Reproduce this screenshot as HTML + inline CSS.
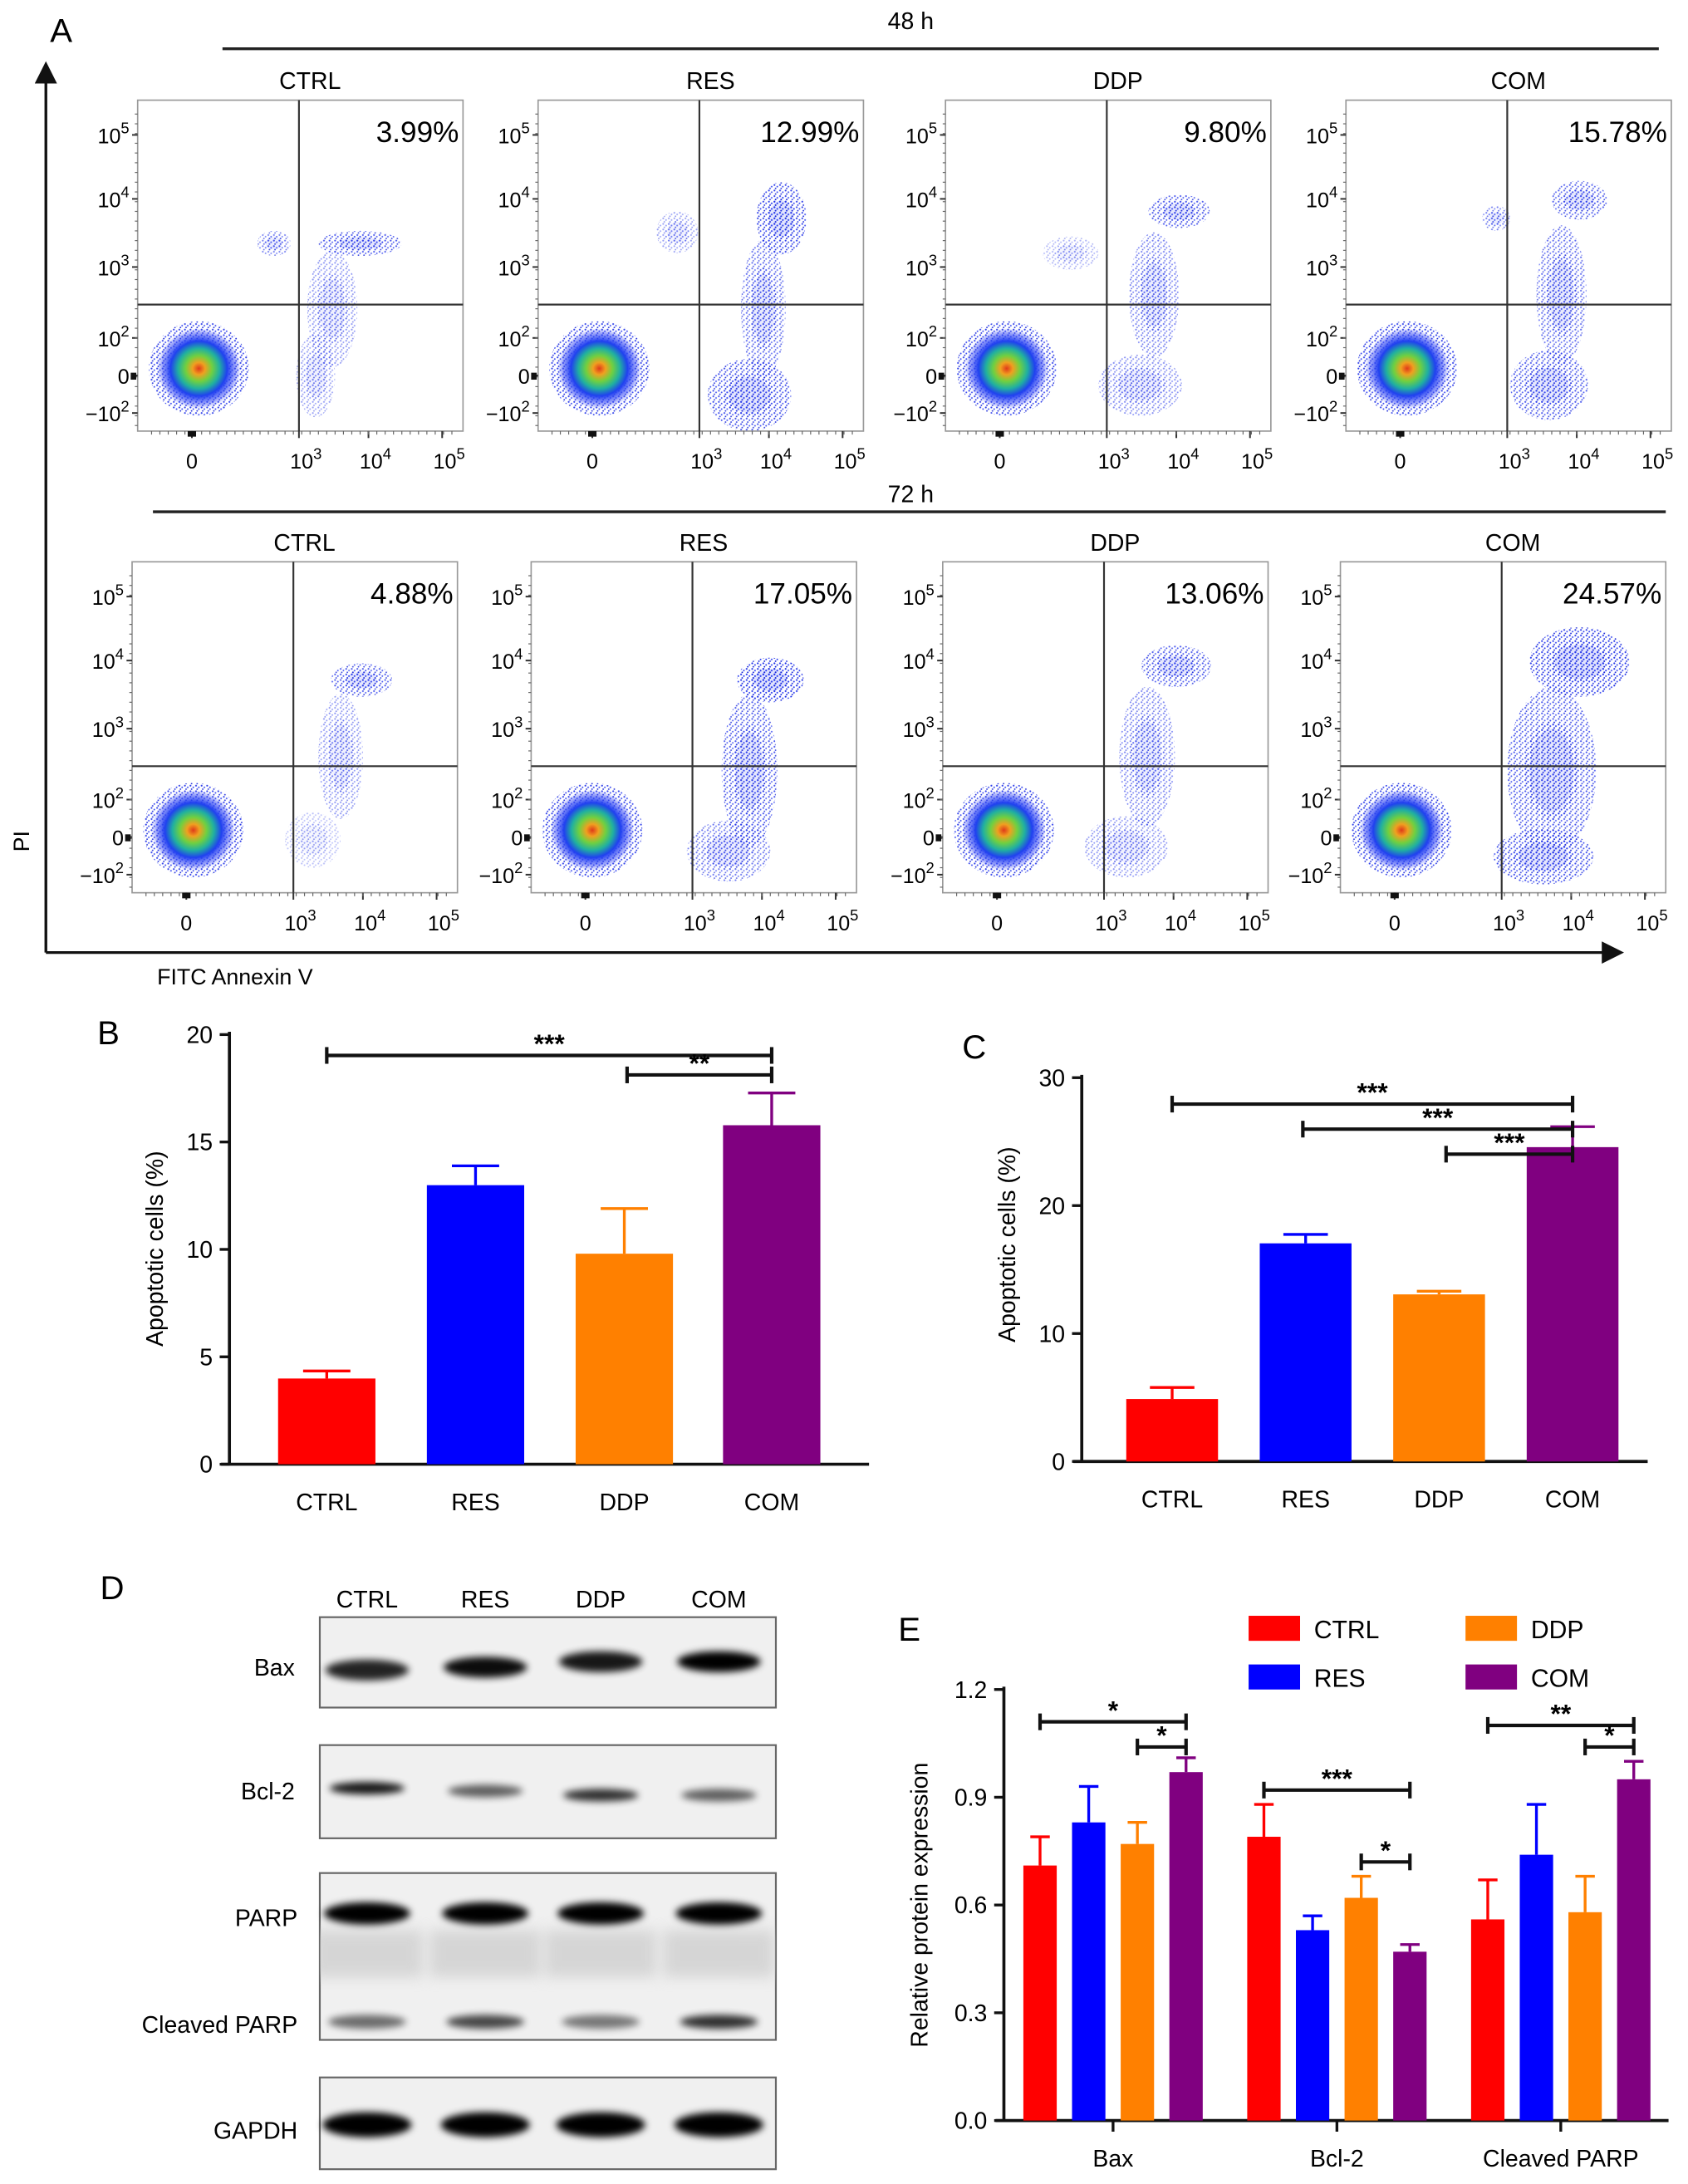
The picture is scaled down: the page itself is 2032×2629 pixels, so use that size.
<!DOCTYPE html>
<html><head><meta charset="utf-8"><style>
html,body{margin:0;padding:0;background:#fff;}
svg{display:block;font-family:"Liberation Sans",Arial,sans-serif;}
</style></head><body>
<svg id="fig" width="2032" height="2629" viewBox="0 0 1214 1570.6" xmlns="http://www.w3.org/2000/svg">
<defs>
<pattern id="dots" width="4" height="4" patternUnits="userSpaceOnUse">
<circle cx="1" cy="1" r="0.65" fill="#1a2ce8"/><circle cx="3" cy="2.2" r="0.6" fill="#2a3cf0"/><circle cx="1.8" cy="3.5" r="0.55" fill="#1020d8"/>
</pattern>
<radialGradient id="clus">
<stop offset="0" stop-color="#e03a1a"/><stop offset="0.15" stop-color="#f0a020"/><stop offset="0.32" stop-color="#70d040"/><stop offset="0.5" stop-color="#20b0a0"/><stop offset="0.68" stop-color="#2040f0"/><stop offset="0.88" stop-color="#3a4cf5" stop-opacity="0.5"/><stop offset="1" stop-color="#3a4cf5" stop-opacity="0"/>
</radialGradient>
<filter id="blur" x="-30%" y="-80%" width="160%" height="260%"><feGaussianBlur stdDeviation="2.6"/></filter>
<filter id="blur2" x="-30%" y="-80%" width="160%" height="260%"><feGaussianBlur stdDeviation="5"/></filter>
<clipPath id="parpclip"><rect x="230" y="1347" width="328" height="120"/></clipPath>
<marker id="arr" markerWidth="8" markerHeight="8" refX="4" refY="4" orient="auto"><path d="M0,0 L8,4 L0,8 z" fill="#111"/></marker>
</defs>
<g id="panelA"></g>
<g id="panelB"></g>
<g id="panelC"></g>
<g id="panelD"></g>
<g id="panelE"></g>
</svg>
<script>
const NS="http://www.w3.org/2000/svg";
function mk(parent,tag,attrs,text){const e=document.createElementNS(NS,tag);for(const k in attrs)e.setAttribute(k,attrs[k]);if(text!==undefined)e.textContent=text;parent.appendChild(e);return e;}

// ---------- DATA ----------
const groups=["CTRL","RES","DDP","COM"];
const colors=["#ff0000","#0000ff","#ff8000","#800080"];
const pct48=["3.99%","12.99%","9.80%","15.78%"];
const pct72=["4.88%","17.05%","13.06%","24.57%"];
const bVals=[3.99,12.99,9.80,15.78];
const bErr=[0.35,0.9,2.1,1.5];
const bTicks=[0,5,10,15,20];
const cVals=[4.88,17.05,13.06,24.57];
const cErr=[0.9,0.7,0.25,1.6];
const cTicks=[0,10,20,30];
const eCats=["Bax","Bcl-2","Cleaved PARP"];
const eCTRL=[0.71,0.79,0.56];
const eRES=[0.83,0.53,0.74];
const eDDP=[0.77,0.62,0.58];
const eCOM=[0.97,0.47,0.95];
const eErrCTRL=[0.08,0.09,0.11];
const eErrRES=[0.10,0.04,0.14];
const eErrDDP=[0.06,0.06,0.10];
const eErrCOM=[0.04,0.02,0.05];
const eTicks=[0.0,0.3,0.6,0.9,1.2];
const bandBax=[0.85,0.95,0.9,1.0];
const bandBcl2=[0.9,0.6,0.8,0.6];
const bandPARP=[1,1,1,1];
const bandCleaved=[0.55,0.7,0.5,0.8];
const bandGAPDH=[1,1,1,1];
// scatter blobs per panel: [relX, relY, rx, ry, opacity]
const blobs48=[
 [[160,103,30,9,.8],[140,150,18,42,.5],[128,198,14,30,.45],[98,103,12,9,.6]],
 [[175,85,18,26,.9],[162,150,16,50,.7],[152,212,30,26,.85],[100,95,15,15,.45]],
 [[168,80,22,12,.8],[150,140,18,45,.6],[140,205,30,22,.55],[90,110,20,12,.35]],
 [[168,72,20,14,.75],[155,140,18,50,.7],[146,205,28,25,.8],[108,85,10,9,.6]]];
const blobs72=[
 [[165,85,22,12,.8],[150,140,16,45,.5],[130,200,20,20,.3]],
 [[172,85,24,16,1],[157,150,20,55,.8],[142,208,30,22,.65]],
 [[168,75,25,15,.8],[147,140,20,50,.6],[132,205,30,22,.5]],
 [[172,72,36,25,.95],[152,150,32,60,.8],[146,212,36,20,.85]]];

// ---------- PANEL A ----------
const A=document.getElementById('panelA');
let t=mk(A,'text',{x:36,y:30,'font-size':24});t.textContent='A';

mk(A,'text',{x:655,y:21,'font-size':17,'text-anchor':'middle'},'48 h');
mk(A,'line',{x1:160,y1:35,x2:1193,y2:35,stroke:'#222','stroke-width':2});
mk(A,'text',{x:655,y:361,'font-size':17,'text-anchor':'middle'},'72 h');
mk(A,'line',{x1:110,y1:368,x2:1198,y2:368,stroke:'#222','stroke-width':2});
let ya=mk(A,'line',{x1:33,y1:685,x2:33,y2:52,stroke:'#111','stroke-width':2,'marker-end':'url(#arr)'});

let xa=mk(A,'line',{x1:33,y1:685,x2:1160,y2:685,stroke:'#111','stroke-width':2,'marker-end':'url(#arr)'});

let pit=mk(A,'text',{x:21,y:605,'font-size':16,'text-anchor':'middle',transform:'rotate(-90 21 605)'},'PI');

let fit=mk(A,'text',{x:113,y:708,'font-size':16},'FITC Annexin V');


const rowBoxes=[{y:72,xs:[99,387,680,968],pct:pct48,bl:blobs48,row:'48h'},{y:404,xs:[95,382,678,964],pct:pct72,bl:blobs72,row:'72h'}];
const BW=234,BH=238,QV=116,QH=147;
function sup(parent,x,y,base,exp,anchor){const tx=mk(parent,'text',{x:x,y:y,'font-size':15,'text-anchor':anchor||'end'});
 const a=mk(tx,'tspan',{});a.textContent=base;if(exp){const b=mk(tx,'tspan',{dy:-7,'font-size':11});b.textContent=exp;}return tx;}
let clipId=0;
rowBoxes.forEach(r=>{
 r.xs.forEach((bx,i)=>{
  const g=mk(A,'g',{});
  
  
  const by=r.y;
  mk(g,'text',{x:bx+124,y:by-8,'font-size':17,'text-anchor':'middle'},groups[i]);
  const cid='c'+(clipId++);
  const cp=mk(g,'clipPath',{id:cid});mk(cp,'rect',{x:bx,y:by,width:BW,height:BH});
  const inner=mk(g,'g',{'clip-path':'url(#'+cid+')'});
  r.bl[i].forEach(b=>{
   mk(inner,'ellipse',{cx:bx+b[0],cy:by+b[1],rx:b[2],ry:b[3],fill:'url(#dots)',opacity:b[4]});
   mk(inner,'ellipse',{cx:bx+b[0],cy:by+b[1],rx:b[2]*0.6,ry:b[3]*0.6,fill:'url(#dots)',opacity:b[4]*0.8});
   mk(inner,'ellipse',{cx:bx+b[0],cy:by+b[1],rx:b[2]*0.5,ry:b[3]*0.5,fill:'#3040f0',opacity:b[4]*0.15});
  });
  mk(inner,'ellipse',{cx:bx+44,cy:by+193,rx:36,ry:34,fill:'url(#dots)',opacity:0.9});
  mk(inner,'ellipse',{cx:bx+44,cy:by+193,rx:30,ry:29,fill:'url(#clus)'});
  mk(g,'rect',{x:bx,y:by,width:BW,height:BH,fill:'none',stroke:'#999','stroke-width':1});
  mk(g,'line',{x1:bx+QV,y1:by,x2:bx+QV,y2:by+BH,stroke:'#333','stroke-width':1.3});
  mk(g,'line',{x1:bx,y1:by+QH,x2:bx+BW,y2:by+QH,stroke:'#333','stroke-width':1.3});
  const pt=mk(g,'text',{x:bx+BW-3,y:by+30,'font-size':21,'text-anchor':'end'},r.pct[i]);
  
  [[25,'10','5'],[71,'10','4'],[120,'10','3'],[171,'10','2'],[198,'0',''],[225,'\u221210','2']].forEach(k=>{
   mk(g,'line',{x1:bx-4,y1:by+k[0],x2:bx,y2:by+k[0],stroke:'#333','stroke-width':1.2});
   sup(g,bx-6,by+k[0]+6,k[1],k[2]);
  });
  for(let yy=by+10;yy<by+BH;yy+=7){mk(g,'line',{x1:bx-2,y1:yy,x2:bx,y2:yy,stroke:'#666','stroke-width':0.7});}
  mk(g,'rect',{x:bx-5,y:by+196,width:4,height:5,fill:'#111'});
  [[39,'0',''],[116,'10','3'],[166,'10','4'],[219,'10','5']].forEach(k=>{
   mk(g,'line',{x1:bx+k[0],y1:by+BH,x2:bx+k[0],y2:by+BH+5,stroke:'#333','stroke-width':1.2});
   sup(g,bx+k[0]+(k[2]?5:0),by+BH+27,k[1],k[2],'middle');
  });
  for(let xx=bx+10;xx<bx+BW-5;xx+=6){mk(g,'line',{x1:xx,y1:by+BH,x2:xx,y2:by+BH+2.5,stroke:'#666','stroke-width':0.7});}
  mk(g,'rect',{x:bx+36,y:by+BH,width:6,height:4,fill:'#111'});
 });
});

// ---------- BAR CHART helper ----------
function barChart(P,cfg){
 const sy=v=>cfg.y0-(v-cfg.vmin)/(cfg.vmax-cfg.vmin)*(cfg.y0-cfg.y1);
 mk(P,'text',{x:cfg.lx,y:cfg.ly,'font-size':24},cfg.label);
 const yax=mk(P,'line',{x1:cfg.x0,y1:cfg.y1-2,x2:cfg.x0,y2:cfg.y0,stroke:'#111','stroke-width':2.2});
 
 const xax=mk(P,'line',{x1:cfg.x0-6,y1:cfg.y0,x2:cfg.xend,y2:cfg.y0,stroke:'#111','stroke-width':2.2});
 
 cfg.ticks.forEach(v=>{
  mk(P,'line',{x1:cfg.x0-7,y1:sy(v),x2:cfg.x0,y2:sy(v),stroke:'#111','stroke-width':2});
  const tl=mk(P,'text',{x:cfg.x0-12,y:sy(v)+6,'font-size':17,'text-anchor':'end'},cfg.fmt(v));
  
 });
 const yt=mk(P,'text',{x:cfg.ytx,y:cfg.yty,'font-size':17,'text-anchor':'middle',transform:`rotate(-90 ${cfg.ytx} ${cfg.yty})`},cfg.ytitle);
 
 return sy;
}
function errBar(P,cx,top,val,col,sy,w){
 mk(P,'line',{x1:cx,y1:sy(val),x2:cx,y2:sy(top),stroke:col,'stroke-width':2});
 mk(P,'line',{x1:cx-w,y1:sy(top),x2:cx+w,y2:sy(top),stroke:col,'stroke-width':2});
}
function sig(P,x1,x2,y,txt){
 const g=mk(P,'g',{});
 
 mk(g,'line',{x1:x1,y1:y,x2:x2,y2:y,stroke:'#111','stroke-width':2.5});
 mk(g,'line',{x1:x1,y1:y-6,x2:x1,y2:y+6,stroke:'#111','stroke-width':2.5});
 mk(g,'line',{x1:x2,y1:y-6,x2:x2,y2:y+6,stroke:'#111','stroke-width':2.5});
 mk(g,'text',{x:(x1+x2)/2,y:y-2,'font-size':19,'font-weight':'bold','text-anchor':'middle'},txt);
}

// ---------- PANEL B ----------
const B=document.getElementById('panelB');
const syB=barChart(B,{x0:165,y0:1053,y1:744,vmin:0,vmax:20,xend:625,ticks:bTicks,fmt:v=>String(v),label:'B',lx:70,ly:751,ytitle:'Apoptotic cells (%)',ytx:117,yty:898});
const bx=[235,342,449,555];
groups.forEach((gname,i)=>{
 const r=mk(B,'rect',{x:bx[i]-35,y:syB(bVals[i]),width:70,height:syB(0)-syB(bVals[i]),fill:colors[i]});
 
 errBar(B,bx[i],bVals[i]+bErr[i],bVals[i],colors[i],syB,17);
 mk(B,'text',{x:bx[i],y:1086,'font-size':17,'text-anchor':'middle'},gname);
});
sig(B,bx[0],bx[3],759,'***');
sig(B,451,bx[3],773,'**');

// ---------- PANEL C ----------
const C=document.getElementById('panelC');
const syC=barChart(C,{x0:778,y0:1051,y1:775,vmin:0,vmax:30,xend:1185,ticks:cTicks,fmt:v=>String(v),label:'C',lx:692,ly:761,ytitle:'Apoptotic cells (%)',ytx:730,yty:895});
const cx=[843,939,1035,1131];
groups.forEach((gname,i)=>{
 const r=mk(C,'rect',{x:cx[i]-33,y:syC(cVals[i]),width:66,height:syC(0)-syC(cVals[i]),fill:colors[i]});
 
 errBar(C,cx[i],cVals[i]+cErr[i],cVals[i],colors[i],syC,16);
 mk(C,'text',{x:cx[i],y:1084,'font-size':17,'text-anchor':'middle'},gname);
});
sig(C,cx[0],cx[3],794,'***');
sig(C,937,cx[3],812,'***');
sig(C,1040,cx[3],830,'***');

// ---------- PANEL D ----------
const D=document.getElementById('panelD');
mk(D,'text',{x:72,y:1150,'font-size':24},'D');
const laneX=[264,349,432,517];
groups.forEach((g,i)=>{const l=mk(D,'text',{x:laneX[i],y:1156,'font-size':17,'text-anchor':'middle'},g);});
const blotBoxes=[{y:1163,h:65,name:'bax'},{y:1255,h:67,name:'bcl-2'},{y:1347,h:120,name:'parp'},{y:1494,h:66,name:'gapdh'}];
blotBoxes.forEach(b=>{
 const r=mk(D,'rect',{x:230,y:b.y,width:328,height:b.h,fill:'#f0f0f0',stroke:'#666','stroke-width':1.3});
 
});
const smear=mk(D,'g',{'clip-path':'url(#parpclip)'});
laneX.forEach(x=>{mk(smear,'rect',{x:x-40,y:1388,width:80,height:34,fill:'#c4c4c4',opacity:0.6,filter:'url(#blur2)'});});
function bands(arr,y,w,h,dy){arr.forEach((v,i)=>{const e=mk(D,'ellipse',{cx:laneX[i],cy:y+(dy?dy[i]:0),rx:w,ry:h,fill:'#000',opacity:v,filter:'url(#blur)'});});}
bands(bandBax,1197,30,7.5,[4,2,-2,-2]);
bands(bandBcl2,1288,27,4.5,[-2,0,3,3]);
bands(bandPARP,1376,31,8);
bands(bandCleaved,1454,28,5);
bands(bandGAPDH,1528,32,9);
[[212,1205,'Bax'],[212,1294,'Bcl-2'],[214,1385,'PARP'],[214,1462,'Cleaved PARP'],[214,1538,'GAPDH']].forEach(k=>{
 const l=mk(D,'text',{x:k[0],y:k[1],'font-size':17,'text-anchor':'end'},k[2]);
});

// ---------- PANEL E ----------
const E=document.getElementById('panelE');
const syE=barChart(E,{x0:722,y0:1525,y1:1215,vmin:0,vmax:1.2,xend:1200,ticks:eTicks,fmt:v=>v.toFixed(1),label:'E',lx:646,ly:1180,ytitle:'Relative protein expression',ytx:667,yty:1370});
const series=[eCTRL,eRES,eDDP,eCOM];
const serr=[eErrCTRL,eErrRES,eErrDDP,eErrCOM];
const gStart=748,gStep=161,bStep=35,bw=24;
const barX=(c,s)=>gStart+c*gStep+s*bStep;
eCats.forEach((cat,c)=>{
 const mid=(barX(c,0)+barX(c,3))/2;
 mk(E,'line',{x1:mid,y1:1525,x2:mid,y2:1533,stroke:'#111','stroke-width':2});
 const l=mk(E,'text',{x:mid,y:1558,'font-size':17,'text-anchor':'middle'},cat);
 
 series.forEach((s,si)=>{
  const x=barX(c,si);
  const r=mk(E,'rect',{x:x-bw/2,y:syE(s[c]),width:bw,height:syE(0)-syE(s[c]),fill:colors[si]});
  
  
  errBar(E,x,s[c]+serr[si][c],s[c],colors[si],syE,7);
 });
});
sig(E,barX(0,0),barX(0,3),syE(1.11),'*');
sig(E,barX(0,2),barX(0,3),syE(1.04),'*');
sig(E,barX(1,0),barX(1,3),syE(0.92),'***');
sig(E,barX(1,2),barX(1,3),syE(0.72),'*');
sig(E,barX(2,0),barX(2,3),syE(1.10),'**');
sig(E,barX(2,2),barX(2,3),syE(1.04),'*');
const legPos=[[898,1162],[898,1197],[1054,1162],[1054,1197]];
groups.forEach((g,i)=>{
 const lg=mk(E,'g',{});
 
 
 mk(lg,'rect',{x:legPos[i][0],y:legPos[i][1],width:37,height:18,fill:colors[i]});
 mk(lg,'text',{x:legPos[i][0]+47,y:legPos[i][1]+16,'font-size':18},g);
});
</script>
</body></html>
